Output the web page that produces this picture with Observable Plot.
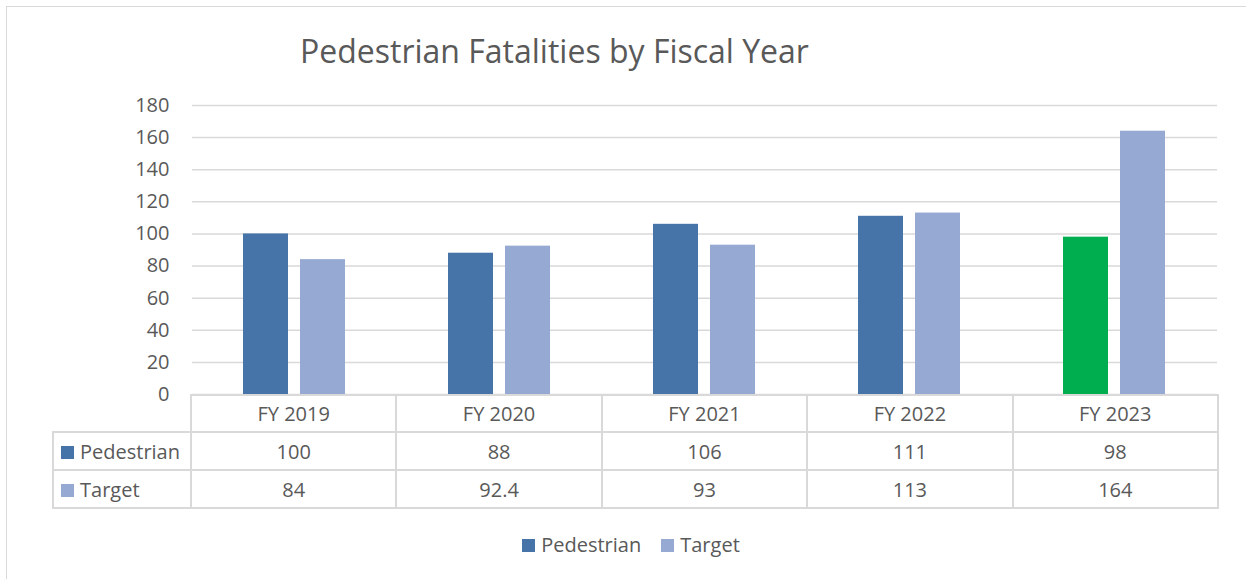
<!DOCTYPE html>
<html>
<head>
<meta charset="utf-8">
<script src="https://cdn.jsdelivr.net/npm/d3@7"></script>
<script src="https://cdn.jsdelivr.net/npm/@observablehq/plot@0.6"></script>
<style>
  html, body { margin: 0; padding: 0; background: #fff; }
  body { width: 1246px; height: 579px; overflow: hidden; font-family: "Open Sans", sans-serif; color: #595959; }
  #wrap { position: relative; width: 1246px; height: 579px; }
  #frame { position: absolute; left: 6px; top: 6px; width: 1260px; height: 600px; border: 1.5px solid #D9D9D9; box-sizing: border-box; }
  #title { position: absolute; left: 300px; top: 31px; font-size: 32px; line-height: 40px; white-space: nowrap; color: #595959; }
  #chart { position: absolute; left: 0; top: 0; }
  #table { position: absolute; left: 52px; top: 394px; width: 1167px; table-layout: fixed; border-collapse: collapse; font-size: 20px; color: #595959; }
  #table td { border: 2px solid #D9D9D9; text-align: center; padding: 0; white-space: nowrap; }
  #table td.blank { border: none; border-right: 2px solid #D9D9D9; }
  #table td.lab { text-align: left; padding-left: 7px; }
  .sw { display: inline-block; width: 13px; height: 13px; margin-right: 6px; vertical-align: 0px; }
  #legend { position: absolute; left: 0; width: 1262px; top: 531px; display: flex; justify-content: center; font-size: 20px; color: #595959; }
  #legend span.item { margin: 0 10px; }
</style>
</head>
<body>
<div id="wrap">
  <div id="frame"></div>
  <div id="chart"></div>
  <div id="title">Pedestrian Fatalities by Fiscal Year</div>
  <table id="table"></table>
  <div id="legend"></div>
</div>
<script>
const years = ["FY 2019", "FY 2020", "FY 2021", "FY 2022", "FY 2023"];
const seriesNames = ["Pedestrian", "Target"];
const pedestrian = [100, 88, 106, 111, 98];
const target = [84, 92.4, 93, 113, 164];
const yTicks = [0, 20, 40, 60, 80, 100, 120, 140, 160, 180];

const colors = { Pedestrian: "#4673A8", Target: "#95A9D2" };
const highlight = "#00AD4F";

const data = [];
years.forEach((yr, i) => {
  data.push({ year: yr, series: "Pedestrian", value: pedestrian[i] });
  data.push({ year: yr, series: "Target", value: target[i] });
});

const chart = Plot.plot({
  width: 1246,
  height: 420,
  marginTop: 105,
  marginBottom: 26,
  marginLeft: 190,
  marginRight: 27,
  style: { fontFamily: "Open Sans, sans-serif", fontSize: "20px", color: "#595959", background: "transparent", overflow: "visible" },
  fx: { domain: years, paddingInner: 0, paddingOuter: 0, axis: null, label: null },
  x: { domain: seriesNames, paddingInner: 0.207, paddingOuter: 0.878, axis: null, label: null },
  y: { domain: [0, 180], label: null },
  marks: [
    Plot.gridY(yTicks, { stroke: "#D9D9D9", strokeOpacity: 1, strokeWidth: 1.5 }),
    Plot.barY(data, {
      fx: "year", x: "series", y: "value",
      fill: d => (d.year === "FY 2023" && d.series === "Pedestrian") ? highlight : colors[d.series]
    }),
    Plot.axisY(yTicks, { tickSize: 0, tickPadding: 23, fontSize: 20, fill: "#595959", label: null })
  ]
});
document.getElementById("chart").appendChild(chart);

// Data table
const table = document.getElementById("table");
const colgroup = document.createElement("colgroup");
const c0 = document.createElement("col");
c0.style.width = "138px";
colgroup.appendChild(c0);
years.forEach(() => {
  const c = document.createElement("col");
  colgroup.appendChild(c);
});
table.appendChild(colgroup);
const head = document.createElement("tr");
head.style.height = "37px";
const blank = document.createElement("td");
blank.className = "blank";
head.appendChild(blank);
years.forEach(yr => {
  const td = document.createElement("td");
  td.textContent = yr;
  head.appendChild(td);
});
table.appendChild(head);
[["Pedestrian", pedestrian], ["Target", target]].forEach(([name, vals]) => {
  const tr = document.createElement("tr");
  tr.style.height = "38px";
  const lab = document.createElement("td");
  lab.className = "lab";
  lab.innerHTML = `<span class="sw" style="background:${colors[name]}"></span>${name}`;
  tr.appendChild(lab);
  vals.forEach(v => {
    const td = document.createElement("td");
    td.textContent = String(v);
    tr.appendChild(td);
  });
  table.appendChild(tr);
});

// Legend
const legend = document.getElementById("legend");
seriesNames.forEach(name => {
  const s = document.createElement("span");
  s.className = "item";
  s.innerHTML = `<span class="sw" style="background:${colors[name]}"></span>${name}`;
  legend.appendChild(s);
});
</script>
</body>
</html>
